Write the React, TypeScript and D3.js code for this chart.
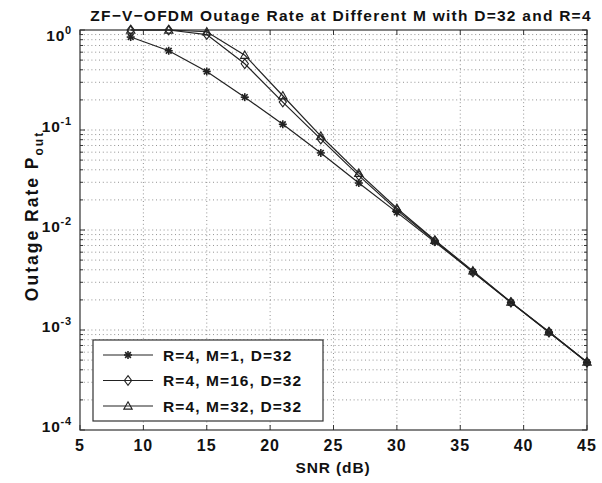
import React from "react";
import * as d3 from "d3";

const snr = [9, 12, 15, 18, 21, 24, 27, 30, 33, 36, 39, 42, 45];
const seriesM1 = [0.85, 0.62, 0.385, 0.213, 0.114, 0.059, 0.0295, 0.015, 0.0076, 0.0038, 0.00188, 0.00095, 0.000475];
const seriesM16 = [1.0, 1.0, 0.9, 0.46, 0.19, 0.081, 0.035, 0.0158, 0.0078, 0.0038, 0.00189, 0.00095, 0.000475];
const seriesM32 = [1.0, 1.0, 0.96, 0.56, 0.22, 0.087, 0.037, 0.0165, 0.0079, 0.0039, 0.0019, 0.00096, 0.000478];
const legendLabels = ["R=4, M=1, D=32", "R=4, M=16, D=32", "R=4, M=32, D=32"];
const xTicks = [5, 10, 15, 20, 25, 30, 35, 40, 45];
const yExponents = [0, -1, -2, -3, -4];
const title = "ZF\u2212V\u2212OFDM Outage Rate at Different M with D=32 and R=4";

const W = 602;
const H = 483;
const L = 80, R = 587, T = 30, B = 430;
const FONT = "'Liberation Sans', Arial, Helvetica, sans-serif";
const INK = "#222";

function Marker({ kind, x, y }: { kind: string; x: number; y: number }) {
  if (kind === "star") {
    const r = 4;
    const d = r * 0.72;
    return (
      <g stroke={INK} strokeWidth={1.6}>
        <line x1={x - r} y1={y} x2={x + r} y2={y} />
        <line x1={x} y1={y - r} x2={x} y2={y + r} />
        <line x1={x - d} y1={y - d} x2={x + d} y2={y + d} />
        <line x1={x - d} y1={y + d} x2={x + d} y2={y - d} />
      </g>
    );
  }
  if (kind === "diamond") {
    const w = 3.6, h = 4.8;
    return (
      <path
        d={`M${x},${y - h}L${x + w},${y}L${x},${y + h}L${x - w},${y}Z`}
        fill="none"
        stroke={INK}
        strokeWidth={1.1}
      />
    );
  }
  const s = 4.2;
  return (
    <path
      d={`M${x},${y - s}L${x + s},${y + s * 0.75}L${x - s},${y + s * 0.75}Z`}
      fill="none"
      stroke={INK}
      strokeWidth={1.1}
    />
  );
}

export default function App() {
  const x = d3.scaleLinear().domain([5, 45]).range([L, R]);
  const y = d3.scaleLog().domain([1e-4, 1]).range([B, T]);

  const minorY: number[] = [];
  for (let e = -4; e < 0; e++) {
    for (let m = 2; m <= 9; m++) minorY.push(m * Math.pow(10, e));
  }
  const majorY = yExponents.map((e) => Math.pow(10, e));

  const line = d3
    .line<number>()
    .x((_, i) => x(snr[i]))
    .y((v) => y(v));

  const series = [
    { values: seriesM1, kind: "star" },
    { values: seriesM16, kind: "diamond" },
    { values: seriesM32, kind: "triangle" },
  ];

  const grid = { stroke: "#777", strokeWidth: 0.8, strokeDasharray: "1 2.8" };

  const legRows = [355, 380.5, 406];
  const txt = { fontSize: 15.5, fontWeight: "bold" as const, fill: "#111" };

  return (
    <svg width={W} height={H} style={{ position: "absolute", left: 0, top: 0, background: "#fff" }} fontFamily={FONT}>
      <rect x={0} y={0} width={W} height={H} fill="#fff" />
      {/* grid */}
      {xTicks.slice(1, -1).map((t) => (
        <line key={"gx" + t} x1={x(t)} x2={x(t)} y1={T} y2={B} {...grid} />
      ))}
      {[...minorY, ...majorY.slice(1, -1)].map((v, i) => (
        <line key={"gy" + i} x1={L} x2={R} y1={y(v)} y2={y(v)} {...grid} />
      ))}
      {/* ticks */}
      {xTicks.map((t) => (
        <g key={"tx" + t} stroke="#333" strokeWidth={1}>
          <line x1={x(t)} x2={x(t)} y1={B} y2={B - 5} />
          <line x1={x(t)} x2={x(t)} y1={T} y2={T + 5} />
        </g>
      ))}
      {majorY.map((v, i) => (
        <g key={"ty" + i} stroke="#333" strokeWidth={1}>
          <line x1={L} x2={L + 5} y1={y(v)} y2={y(v)} />
          <line x1={R} x2={R - 5} y1={y(v)} y2={y(v)} />
        </g>
      ))}
      {minorY.map((v, i) => (
        <g key={"tmy" + i} stroke="#333" strokeWidth={1}>
          <line x1={L} x2={L + 3} y1={y(v)} y2={y(v)} />
          <line x1={R} x2={R - 3} y1={y(v)} y2={y(v)} />
        </g>
      ))}
      {/* box */}
      <rect x={L} y={T} width={R - L} height={B - T} fill="none" stroke="#333" strokeWidth={1.2} />
      {/* series */}
      {series.map((s, si) => (
        <g key={"s" + si}>
          <path d={line(s.values) || ""} fill="none" stroke={INK} strokeWidth={1.2} />
          {s.values.map((v, i) => (
            <Marker key={i} kind={s.kind} x={x(snr[i])} y={y(v)} />
          ))}
        </g>
      ))}
      {/* x tick labels */}
      {xTicks.map((t) => (
        <text key={"xl" + t} x={x(t)} y={451} textAnchor="middle" {...txt} fontSize={16} letterSpacing={1}>
          {t}
        </text>
      ))}
      {/* y tick labels */}
      {yExponents.map((e, i) => (
        <text
          key={"yl" + e}
          x={72}
          y={y(Math.pow(10, e)) + (i === 0 ? 11 : 2)}
          textAnchor="end"
          {...txt}
          letterSpacing={0.8}
        >
          10
          <tspan dy={-7} fontSize={11}>
            {e === 0 ? "0" : "-" + Math.abs(e)}
          </tspan>
        </text>
      ))}
      {/* title */}
      <text x={341} y={21} textAnchor="middle" {...txt} letterSpacing={1.25}>
        {title}
      </text>
      {/* x label */}
      <text x={333} y={473} textAnchor="middle" {...txt} letterSpacing={0.9}>
        SNR (dB)
      </text>
      {/* y label */}
      <text transform={`translate(38,216) rotate(-90)`} textAnchor="middle" {...txt} fontSize={17.5} letterSpacing={2}>
        Outage Rate P
        <tspan dy={4.5} fontSize={12}>
          out
        </tspan>
      </text>
      {/* legend */}
      <rect x={93} y={340} width={230} height={81} fill="#fff" stroke="#333" strokeWidth={1.2} />
      {series.map((s, i) => (
        <g key={"lg" + i}>
          <line x1={103} x2={153} y1={legRows[i]} y2={legRows[i]} stroke={INK} strokeWidth={1.2} />
          <Marker kind={s.kind} x={128} y={legRows[i]} />
          <text x={163} y={legRows[i] + 5.5} {...txt} letterSpacing={1.1}>
            {legendLabels[i]}
          </text>
        </g>
      ))}
    </svg>
  );
}
